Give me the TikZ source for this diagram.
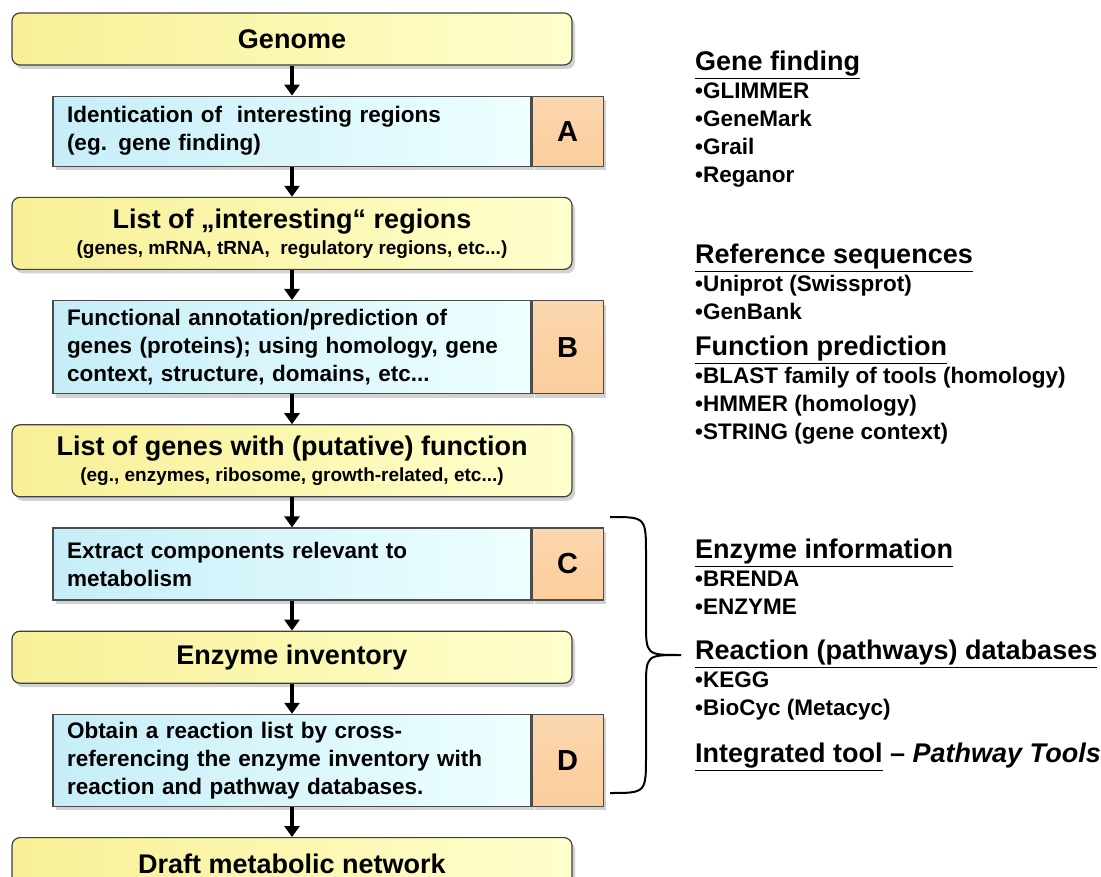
\documentclass[tikz,border=0pt]{standalone}
\usepackage{fontspec}
\setmainfont{Liberation Sans}
\usetikzlibrary{positioning,shadows,arrows.meta}

\definecolor{stageL}{RGB}{247,240,150}
\definecolor{stageR}{RGB}{255,255,205}
\definecolor{taskL}{RGB}{198,238,248}
\definecolor{taskR}{RGB}{238,255,255}
\definecolor{tagfill}{RGB}{251,205,155}

\begin{document}
\begin{tikzpicture}[
    x=1pt, y=1pt,
    node distance=30pt,
    stage/.style={draw=black!75, line width=1.2pt, rounded corners=8pt,
      left color=stageL, right color=stageR, minimum width=560pt, minimum height=52pt,
      align=center, font=\bfseries\fontsize{27}{30}\selectfont,
      drop shadow={shadow xshift=3pt, shadow yshift=-4pt, opacity=0.35}},
    task/.style={draw=black!70, line width=1.2pt, left color=taskL, right color=taskR,
      minimum width=478pt, text width=450pt, inner xsep=14pt, align=left,
      font=\bfseries\fontsize{22.5}{28}\selectfont,
      drop shadow={shadow xshift=3pt, shadow yshift=-4pt, opacity=0.35}},
    tag/.style={draw=black!70, line width=1.2pt, top color=tagfill!80!white, bottom color=tagfill,
      minimum width=71pt, font=\bfseries\fontsize{29}{30}\selectfont,
      drop shadow={shadow xshift=3pt, shadow yshift=-4pt, opacity=0.35}},
    flow/.style={-{Triangle[width=15pt,length=11pt]}, line width=3.5pt},
    tool/.style={anchor=north west, inner sep=0pt, align=left,
      font=\bfseries\fontsize{22.5}{28}\selectfont},
  ]
    \useasboundingbox (0,0) rectangle (1101,-877);
    \fill[white] (0,0) rectangle (1101,-877);

    % main column
    \node[stage] (genome) at (292,-39) {Genome};
    \node[task, minimum height=70pt, below=of genome] (ident) {Identication of\ \ interesting regions\\(eg. gene finding)};
    \node[tag, minimum height=70pt, right=0pt of ident] (tagA) {A};
    \node[stage, minimum height=72pt, below=of ident] (regions) {List of „interesting“ regions\\[-4pt]
      {\fontsize{19}{21}\selectfont (genes, mRNA, tRNA,\ \ regulatory regions, etc...)}};
    \node[task, minimum height=93pt, below=of regions] (annot) {Functional annotation/prediction of\\genes (proteins); using homology, gene\\context, structure, domains, etc...};
    \node[tag, minimum height=93pt, right=0pt of annot] (tagB) {B};
    \node[stage, minimum height=72pt, below=of annot] (genes) {List of genes with (putative) function\\[-4pt]
      {\fontsize{19}{21}\selectfont (eg., enzymes, ribosome, growth-related, etc...)}};
    \node[task, minimum height=72pt, below=of genes] (extract) {Extract components relevant to\\metabolism};
    \node[tag, minimum height=72pt, right=0pt of extract] (tagC) {C};
    \node[stage, below=of extract] (inventory) {Enzyme inventory};
    \node[task, minimum height=92pt, below=of inventory] (obtain) {Obtain a reaction list by cross-\\referencing the enzyme inventory with\\reaction and pathway databases.};
    \node[tag, minimum height=92pt, right=0pt of obtain] (tagD) {D};
    \node[stage, below=of obtain] (draft) {Draft metabolic network};

    \draw[flow] (genome) -- (ident);
    \draw[flow] (ident) -- (regions);
    \draw[flow] (regions) -- (annot);
    \draw[flow] (annot) -- (genes);
    \draw[flow] (genes) -- (extract);
    \draw[flow] (extract) -- (inventory);
    \draw[flow] (inventory) -- (obtain);
    \draw[flow] (obtain) -- (draft);

    % brace over steps C and D
    \coordinate (braceTop) at (610,-517);
    \coordinate (braceTip) at (681,-655);
    \coordinate (braceBot) at (610,-793);
    \draw[line width=2pt] (braceTop) .. controls (646,-517) .. (646,-555) -- (646,-622)
      .. controls (646,-655) .. (braceTip) .. controls (646,-655) .. (646,-688) -- (646,-755)
      .. controls (646,-793) .. (braceBot);

    % tools column
    \node[tool] (genefind) at (695,-51) {{\fontsize{27}{28}\selectfont\underline{Gene finding}}\\•GLIMMER\\•GeneMark\\•Grail\\•Reganor};
    \node[tool] (refseq) at (695,-244) {{\fontsize{27}{28}\selectfont\underline{Reference sequences}}\\•Uniprot (Swissprot)\\•GenBank};
    \node[tool] (funcpred) at (695,-336) {{\fontsize{27}{28}\selectfont\underline{Function prediction}}\\•BLAST family of tools (homology)\\•HMMER (homology)\\•STRING (gene context)};
    \node[tool] (enzinfo) at (695,-539) {{\fontsize{27}{28}\selectfont\underline{Enzyme information}}\\•BRENDA\\•ENZYME};
    \node[tool] (reactdb) at (695,-640) {{\fontsize{27}{28}\selectfont\underline{Reaction (pathways) databases}}\\•KEGG\\•BioCyc (Metacyc)};
    \node[tool] (integr) at (695,-743) {{\fontsize{27}{28}\selectfont\underline{Integrated tool} – \itshape Pathway Tools}};
  \end{tikzpicture}
\end{document}
